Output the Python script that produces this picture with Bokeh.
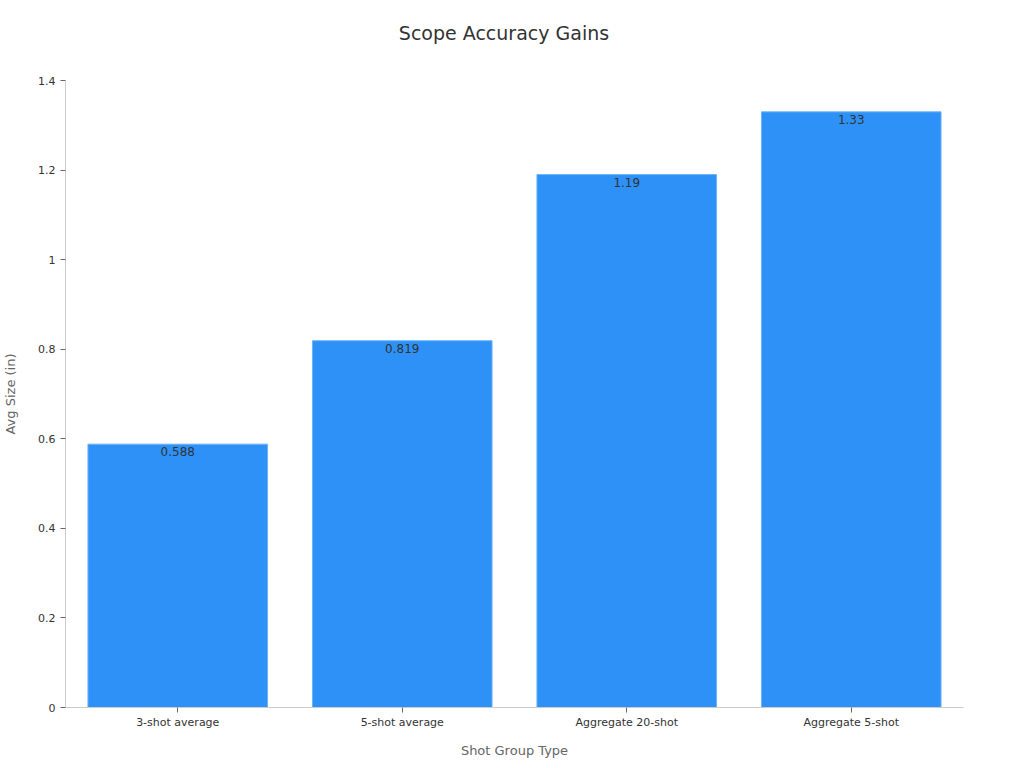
from bokeh.plotting import figure
from bokeh.models import ColumnDataSource, Range1d, FixedTicker, CustomJSTickFormatter, Div
from bokeh.layouts import column
from bokeh.embed import file_html
from bokeh.resources import INLINE

categories = ["3-shot average", "5-shot average", "Aggregate 20-shot", "Aggregate 5-shot"]
values = [0.588, 0.819, 1.19, 1.33]
labels = ["0.588", "0.819", "1.19", "1.33"]
y_ticks = [0, 0.2, 0.4, 0.6, 0.8, 1.0, 1.2, 1.4]
title_text = "Scope Accuracy Gains"

FONT = "DejaVu Sans"

src = ColumnDataSource(dict(cat=categories, val=values, lab=labels))

title_div = Div(
    text=('<div style="font-family: \'DejaVu Sans\'; font-size: 19px; color: #333333; '
          'text-align: center; line-height: 66px; width: 992px; padding-left: 16px;">%s</div>'
          % title_text),
    width=1008, height=70, margin=0)

p = figure(x_range=categories, y_range=Range1d(0, 1.4), width=1008, height=690,
           output_backend="svg", toolbar_location=None,
           min_border_left=64, min_border_right=45, min_border_bottom=52,
           min_border_top=10)

p.vbar(x="cat", top="val", width=0.8, source=src,
       fill_color="#2E91F8", line_color="#6db3fa", line_width=1)
p.text(x="cat", y="val", text="lab", source=src, text_align="center",
       text_baseline="top", y_offset=3, text_font_size="12px",
       text_color="#333333", text_font={"value": FONT})

p.xgrid.visible = False
p.ygrid.visible = False
p.outline_line_color = None

for ax in (p.xaxis[0], p.yaxis[0]):
    ax.axis_line_color = "#cccccc"
    ax.major_tick_line_color = "#666666"
    ax.minor_tick_line_color = None
    ax.major_label_text_font = FONT
    ax.major_label_text_font_size = "11px"
    ax.major_label_text_color = "#333333"
    ax.axis_label_text_font = FONT
    ax.axis_label_text_font_size = "13px"
    ax.axis_label_text_font_style = "normal"
    ax.axis_label_text_color = "#666666"
    ax.major_tick_in = 0
    ax.major_tick_out = 5

p.xaxis.axis_label = "Shot Group Type"
p.yaxis.axis_label = "Avg Size (in)"
p.yaxis.ticker = FixedTicker(ticks=y_ticks)
p.yaxis.formatter = CustomJSTickFormatter(code="return String(Math.round(tick*10)/10);")
p.xaxis.major_label_standoff = 3
p.xaxis.axis_label_standoff = 11
p.yaxis.axis_label_standoff = 17

layout = column(title_div, p, spacing=0)

open("out.html", "w").write(file_html(layout, INLINE))
